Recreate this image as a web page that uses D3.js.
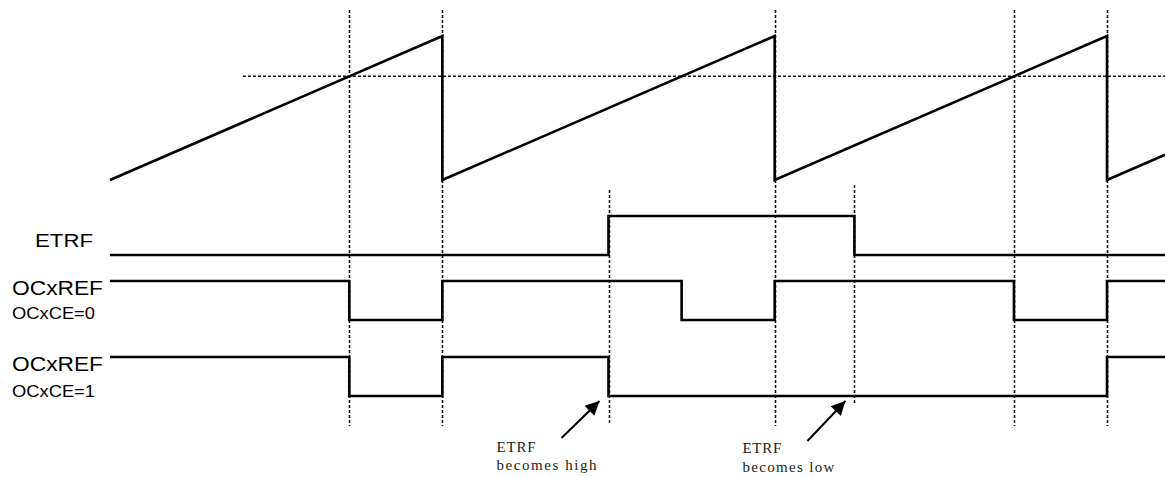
<!DOCTYPE html>
<html>
<head>
<meta charset="utf-8">
<script src="https://cdn.jsdelivr.net/npm/d3@7"></script>
<style>
  body { margin: 0; background: #fff; }
  .lbl { font-family: "Liberation Sans", Arial, sans-serif; fill: #000; }
  .note { font-family: "Liberation Serif", "DejaVu Serif", serif; font-size: 15px; fill: #222; }
</style>
</head>
<body>
<div id="chart"></div>
<script>
// time in counter units: one period = 10
var period = 10, tEnd = 31.75;
var counterMax = 100, ccr = 72;          // CCR threshold
var thresholdStart = 4;                  // where dashed compare line begins
// counter ramp points (time, value)
var counter = [[0,0],[10,100],[10,0],[20,100],[20,0],[30,100],[30,0],[31.75,17.5]];
// digital signals as [time, level]
var etrf   = [[0,0],[15,1],[22.4,0],[31.75,0]];
var ocref0 = [[0,1],[7.2,0],[10,1],[17.2,0],[20,1],[27.2,0],[30,1],[31.75,1]];
var ocref1 = [[0,1],[7.2,0],[10,1],[15,0],[30,1],[31.75,1]];
// vertical dashed markers
var markersLong = [7.2, 10, 20, 27.2, 30];
var markersEtrf = [[15, 190, 425], [22.4, 185, 405]];
var notes = [
  {t: 15,   line1: "ETRF", line2: "becomes high"},
  {t: 22.4, line1: "ETRF", line2: "becomes low"}
];

var width = 1165, height = 477;
var svg = d3.select("#chart").append("svg")
    .attr("width", width).attr("height", height);

var x = d3.scaleLinear().domain([0, 30]).range([110, 1107]);
var yc = d3.scaleLinear().domain([0, counterMax]).range([180, 36]);

var defs = svg.append("defs");
defs.append("marker")
    .attr("id", "ah").attr("viewBox", "0 0 10 10")
    .attr("refX", 10).attr("refY", 5)
    .attr("markerWidth", 8).attr("markerHeight", 7)
    .attr("markerUnits", "strokeWidth")
    .attr("orient", "auto")
  .append("path").attr("d", "M0,0 L10,5 L0,10 z").attr("fill", "#000");

// dashed guides
var guides = svg.append("g")
    .attr("stroke", "#111").attr("stroke-width", 1.6)
    .attr("stroke-dasharray", "3,2").attr("fill", "none");

guides.append("line")
    .attr("x1", x(thresholdStart)).attr("x2", x(tEnd))
    .attr("y1", yc(ccr)).attr("y2", yc(ccr));

guides.selectAll(".vl").data(markersLong).enter().append("line")
    .attr("x1", function(d) { return Math.round(x(d)) + 0.5; })
    .attr("x2", function(d) { return Math.round(x(d)) + 0.5; })
    .attr("y1", 10).attr("y2", 426);

guides.selectAll(".ve").data(markersEtrf).enter().append("line")
    .attr("x1", function(d) { return Math.round(x(d[0])) + 0.5; })
    .attr("x2", function(d) { return Math.round(x(d[0])) + 0.5; })
    .attr("y1", function(d) { return d[1]; })
    .attr("y2", function(d) { return d[2]; });

// counter sawtooth
var line = d3.line()
    .x(function(d) { return x(d[0]); })
    .y(function(d) { return yc(d[1]); });

svg.append("path").datum(counter)
    .attr("d", line)
    .attr("fill", "none").attr("stroke", "#000").attr("stroke-width", 2.6)
    .attr("stroke-linejoin", "miter");

// digital rows
var rows = [
  {data: etrf,   hi: 216, lo: 255},
  {data: ocref0, hi: 281, lo: 320},
  {data: ocref1, hi: 357, lo: 396}
];

rows.forEach(function(r) {
  var ys = d3.scaleLinear().domain([0, 1]).range([r.lo, r.hi]);
  var step = d3.line()
      .x(function(d) { return x(d[0]); })
      .y(function(d) { return ys(d[1]); })
      .curve(d3.curveStepAfter);
  svg.append("path").datum(r.data)
      .attr("d", step)
      .attr("fill", "none").attr("stroke", "#000").attr("stroke-width", 2.6);
});

// row labels
var labels = [
  {text: "ETRF",    x: 35, y: 247, size: 18,   len: 58},
  {text: "OCxREF",  x: 12, y: 295, size: 20,   len: 91},
  {text: "OCxCE=0", x: 12, y: 319, size: 16,   len: 83},
  {text: "OCxREF",  x: 12, y: 371, size: 20,   len: 91},
  {text: "OCxCE=1", x: 12, y: 397, size: 16,   len: 83}
];
svg.selectAll(".lbl").data(labels).enter().append("text")
    .attr("class", "lbl")
    .attr("x", function(d) { return d.x; })
    .attr("y", function(d) { return d.y; })
    .attr("font-size", function(d) { return d.size; })
    .attr("textLength", function(d) { return d.len; })
    .attr("lengthAdjust", "spacingAndGlyphs")
    .text(function(d) { return d.text; });

// annotations with arrows
var ng = svg.selectAll(".ng").data(notes).enter().append("g");
ng.append("line")
    .attr("x1", function(d) { return x(d.t) - 47; })
    .attr("y1", function(d, i) { return 438 + i * 3; })
    .attr("x2", function(d) { return x(d.t) - 9; })
    .attr("y2", 401)
    .attr("stroke", "#000").attr("stroke-width", 2)
    .attr("marker-end", "url(#ah)");
ng.append("text").attr("class", "note")
    .attr("x", function(d) { return x(d.t) - 112; })
    .attr("y", function(d, i) { return 452 + i; })
    .attr("textLength", 39).attr("lengthAdjust", "spacing")
    .text(function(d) { return d.line1; });
ng.append("text").attr("class", "note")
    .attr("x", function(d) { return x(d.t) - 112; })
    .attr("y", function(d, i) { return 470 + i * 2; })
    .attr("textLength", function(d, i) { return i ? 92 : 100; })
    .attr("lengthAdjust", "spacing")
    .text(function(d) { return d.line2; });
</script>
</body>
</html>
